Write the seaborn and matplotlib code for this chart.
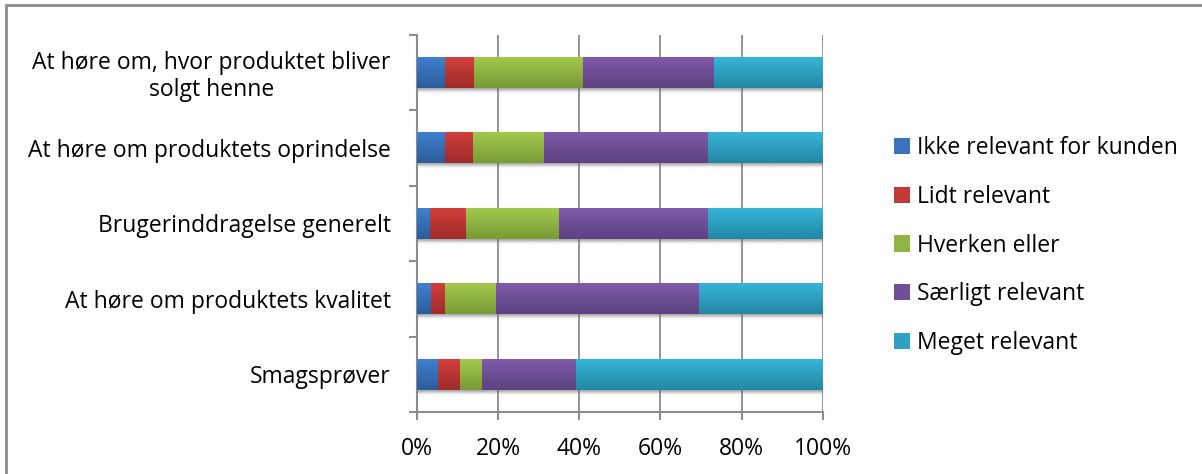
import numpy as np
import pandas as pd
import matplotlib
matplotlib.use("Agg")
import matplotlib.pyplot as plt
from matplotlib.colors import LinearSegmentedColormap
from matplotlib.lines import Line2D
from matplotlib.patches import Patch
import seaborn as sns

# Survey items (top to bottom) and the share of answers per level, in percent
categories = [
    "At høre om, hvor produktet bliver\nsolgt henne",
    "At høre om produktets oprindelse",
    "Brugerinddragelse generelt",
    "At høre om produktets kvalitet",
    "Smagsprøver",
]
levels = [
    "Ikke relevant for kunden",
    "Lidt relevant",
    "Hverken eller",
    "Særligt relevant",
    "Meget relevant",
]
ikke_relevant = [7.0, 7.0, 3.3, 3.5, 5.2]
lidt_relevant = [7.1, 6.9, 8.8, 3.5, 5.5]
hverken_eller = [26.9, 17.5, 22.9, 12.5, 5.4]
saerligt_relevant = [32.2, 40.3, 36.7, 50.0, 23.1]
meget_relevant = [26.8, 28.3, 28.3, 30.5, 60.8]
x_ticks = [0, 20, 40, 60, 80, 100]

series = [ikke_relevant, lidt_relevant, hverken_eller, saerligt_relevant, meget_relevant]

# (top, bottom) shades of each level's bar gradient
shades = [
    ("#3f80ce", "#2c5d9b"),
    ("#d13f3c", "#9e2b2a"),
    ("#a2c84c", "#7a9a36"),
    ("#7f5aab", "#5d427f"),
    ("#36b4d8", "#2387a4"),
]
mid_colors = ["#3a73bb", "#c03a38", "#90b544", "#6f4f97", "#2fa2c3"]

sns.set_theme(style="white")
plt.rcParams["font.family"] = ["Open Sans", "DejaVu Sans"]
plt.rcParams["text.color"] = "black"

FS = 16.5

fig = plt.figure(figsize=(12.02, 4.74), dpi=100)
ax = fig.add_axes([0.3469, 0.1308, 0.3376, 0.7964])

values = np.array(series)
cum_end = np.cumsum(values, axis=0)
cum_start = cum_end - values
bar_h = 0.41

# stacked bars: each level drawn through seaborn, then trimmed to its segment
for i, lvl in enumerate(levels):
    df = pd.DataFrame({"kategori": categories, "andel": cum_end[i]})
    n_before = len(ax.patches)
    sns.barplot(data=df, x="andel", y="kategori", orient="h", color=mid_colors[i],
                width=bar_h, ax=ax, zorder=3, linewidth=0, saturation=1)
    cmap = LinearSegmentedColormap.from_list(f"g{i}", [shades[i][0], shades[i][1]])
    for j, p in enumerate(ax.patches[n_before:]):
        p.set_x(cum_start[i][j])
        p.set_width(values[i][j])
        p.set_facecolor("none")
        p.set_edgecolor("none")
        grad = np.linspace(0, 1, 64).reshape(-1, 1)
        y0, y1 = p.get_y(), p.get_y() + p.get_height()
        im = ax.imshow(grad, cmap=cmap, aspect="auto", origin="upper",
                       extent=(cum_start[i][j], cum_end[i][j], y1, y0),
                       zorder=3, interpolation="bilinear")
        im.set_clip_path(p)

# soft drop shadow below every bar
px = 1 / 75.5
for j in range(len(categories)):
    y_bot = j + bar_h / 2
    prof = np.exp(-np.linspace(0, 3, 32) ** 2)
    rgba = np.zeros((32, 1, 4))
    rgba[..., :3] = 0.4
    rgba[:, 0, 3] = 0.55 * prof
    ax.imshow(rgba, aspect="auto", origin="upper",
              extent=(0.3, 100.3, y_bot + 9 * px, y_bot), zorder=2,
              interpolation="bilinear")

ax.set_xlim(0, 100)
ax.set_ylim(len(categories) - 0.5, -0.5)
ax.set_xticks(x_ticks)
ax.set_xticklabels([f"{t}%" for t in x_ticks])
ax.set_xlabel("")
ax.set_ylabel("")

grid_c = "#8c8c8c"
ax.grid(axis="x", color=grid_c, linewidth=1.3, zorder=0)
ax.set_axisbelow(True)
for side in ["top", "right"]:
    ax.spines[side].set_visible(False)
for side in ["left", "bottom"]:
    ax.spines[side].set_color(grid_c)
    ax.spines[side].set_linewidth(1.5)

# category separators as outward ticks on the value axis
ax.set_yticks(np.arange(len(categories) + 1) - 0.5, minor=True)
ax.tick_params(axis="y", which="minor", left=True, length=6, width=1.5, color=grid_c)
ax.tick_params(axis="y", which="major", left=False, length=0, pad=19,
               labelsize=FS, labelcolor="black")
ax.tick_params(axis="x", which="major", bottom=True, length=6, width=1.5, color=grid_c,
               pad=12, labelsize=FS, labelcolor="black")
for lab in ax.get_yticklabels():
    lab.set_multialignment("center")
    lab.set_linespacing(1.15)

handles = [Patch(facecolor=c, edgecolor="none") for c in mid_colors]
fig.legend(handles, levels, loc="center left", bbox_to_anchor=(0.744, 0.482),
           frameon=False, fontsize=FS, labelcolor="black", handlelength=0.7,
           handleheight=0.7, handletextpad=0.3, labelspacing=1.07, borderpad=0,
           borderaxespad=0)

# chart-area border
fig.add_artist(Line2D([0.005, 1.0], [0.9885, 0.9885], color=grid_c, linewidth=2,
                      transform=fig.transFigure))
fig.add_artist(Line2D([0.005, 0.005], [0.0, 0.9885], color=grid_c, linewidth=2,
                      transform=fig.transFigure))

fig.savefig("out.png", dpi=100, facecolor="white")
